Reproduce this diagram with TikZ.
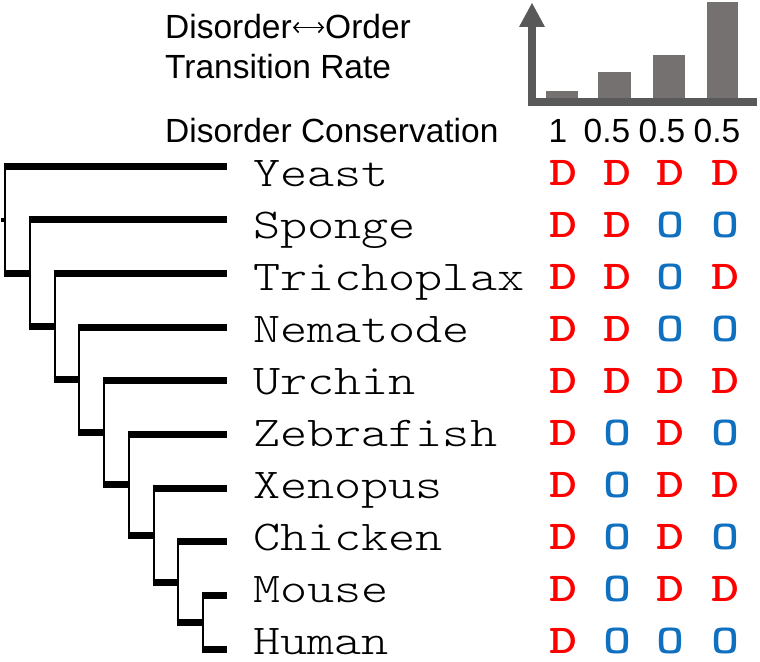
\documentclass[tikz,border=0pt]{standalone}
\usepackage{fontspec}
\usetikzlibrary{arrows.meta}
\setmainfont{Liberation Sans}
\newcommand{\courfam}{\ttfamily\fontseries{l}\selectfont}
\newcommand{\courbold}{\ttfamily\bfseries}
\definecolor{dred}{RGB}{255,0,0}
\definecolor{oblue}{RGB}{16,112,192}
\definecolor{axisgray}{RGB}{89,89,89}
\definecolor{bargray}{RGB}{118,113,113}
\tikzset{
  hdr/.style={anchor=base west,inner sep=0pt,font=\fontsize{33.5}{40}\selectfont},
  num/.style={anchor=base,inner sep=0pt,font=\fontsize{33.5}{40}\selectfont},
  species/.style={anchor=base west,inner sep=0pt,font=\courfam\fontsize{42.5}{50}\selectfont},
  cD/.style={anchor=base,inner sep=0pt,text=dred,font=\courbold\fontsize{41}{50}\selectfont},
  cO/.style={anchor=base,inner sep=0pt,text=oblue,font=\courbold\fontsize{41}{50}\selectfont},
  leaf/.style={line width=7pt,line cap=butt},
  stem/.style={line width=2pt,line cap=butt},
  bar/.style={fill=bargray,draw=none},
  axisline/.style={fill=axisgray,draw=none},
  twoway/.style={line width=1.6pt,{Straight Barb[length=4.5pt,width=10pt]}-{Straight Barb[length=4.5pt,width=10pt]}}
}
\begin{document}
\begin{tikzpicture}[x=1pt,y=-1pt]
\useasboundingbox (0,0) rectangle (760,661);
% header
\node[hdr] (h1a) at (165,38) {Disorder};
\node[hdr] (h1b) at (325,38) {Order};
\coordinate (arrL) at (293,27.5);
\coordinate (arrR) at (324,27.5);
\draw[twoway] (arrL) -- (arrR);
\node[hdr] (h2) at (165,78) {Transition Rate};
\node[hdr] (h3) at (165,142) {Disorder Conservation};
% chart
\path[axisline] (528,27) rectangle (536,106);
\path[axisline] (528,98) rectangle (757,106);
\path[axisline] (519,27) -- (545,27) -- (532,3) -- cycle;
\path[bar] (546,91) rectangle (578,98);
\path[bar] (598,72) rectangle (631,98);
\path[bar] (653,55) rectangle (685,98);
\path[bar] (707,2) rectangle (738,98);
\node[num] (n1) at (558,142) {1};
\node[num] (n2) at (607,142) {0.5};
\node[num] (n3) at (662,142) {0.5};
\node[num] (n4) at (717,142) {0.5};
% tree coordinates
\foreach \i/\y in {0/166,1/219.7,2/273.3,3/327,4/380.7,5/434.3,6/488,7/541.7,8/595.3,9/649}{
  \coordinate (L\i) at (227,\y);
}
% leaf bars
\foreach \i/\x/\y in {0/4/166,1/28.75/219.7,2/53.5/273.3,3/78.25/327,4/103/380.7,5/127.75/434.3,6/152.5/488,7/177.25/541.7,8/202/595.3,9/202/649}{
  \coordinate (S\i) at (\x,\y);
  \draw[leaf] (S\i) -- (L\i);
}
% internal nodes: vertical stems
\foreach \i/\x/\ya/\yb in {0/4/166/273.1,1/28.75/219.7/326.6,2/53.5/273.3/379.8,3/78.25/327/432.7,4/103/380.7/484.7,5/127.75/434.3/535,6/152.5/488/582,7/177.25/541.7/622.2,8/202/595.3/649}{
  \coordinate (Va\i) at (\x+1,\ya-3.5);
  \coordinate (Vb\i) at (\x+1,\yb+3.5);
  \draw[stem] (Va\i) -- (Vb\i);
}
% stubs joining each node to its parent
\foreach \i/\x/\xn/\y in {0/4/28.75/273.1,1/28.75/53.5/326.6,2/53.5/78.25/379.8,3/78.25/103/432.7,4/103/127.75/484.7,5/127.75/152.5/535,6/152.5/177.25/582,7/177.25/202/622.2}{
  \coordinate (Ka\i) at (\x,\y);
  \coordinate (Kb\i) at (\xn+2,\y);
  \draw[leaf] (Ka\i) -- (Kb\i);
}
\coordinate (root) at (1,219.5);
\coordinate (rootj) at (5,219.5);
\draw[line width=4pt] (root) -- (rootj);
% species labels
\foreach \i/\name in {0/Yeast,1/Sponge,2/Trichoplax,3/Nematode,4/Urchin,5/Zebrafish,6/Xenopus,7/Chicken,8/Mouse,9/Human}{
  \node[species] (sp\i) at (253,186+52.1*\i) {\scalebox{1.215}[1]{\name}};
}
% D / O matrix
\foreach \i/\row in {0/{D,D,D,D},1/{D,D,O,O},2/{D,D,O,D},3/{D,D,O,O},4/{D,D,D,D},5/{D,O,D,O},6/{D,O,D,D},7/{D,O,D,O},8/{D,O,D,D},9/{D,O,O,O}}{
  \foreach \c [count=\k] in \row {
    \pgfmathsetmacro{\xx}{{563,617,670,725}[\k-1]}
    \node[c\c] (m\i-\k) at (\xx,185+52*\i) {\scalebox{1.3}[1]{\c}};
  }
}
\end{tikzpicture}
\end{document}
